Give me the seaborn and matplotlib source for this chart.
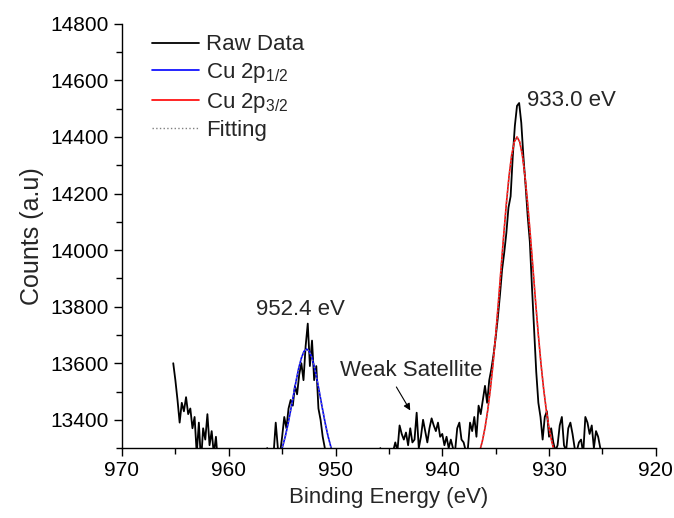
"""Cu 2p XPS spectrum with Gaussian component fits."""

import matplotlib
matplotlib.use("Agg")
import matplotlib.pyplot as plt
from matplotlib.ticker import MultipleLocator
import numpy as np
import pandas as pd
import seaborn as sns

# raw spectrum, 965.2 -> 925.2 eV in 0.2 eV steps
raw_start, raw_stop, raw_step = 965.2, 925.2, 0.2
raw_counts = [
    13600, 13540, 13470, 13390, 13460, 13430, 13480, 13420, 13440, 13370,
    13410, 13280, 13390, 13250, 13370, 13330, 13420, 13310, 13360, 13280,
    13340, 13240, 13220, 13250, 13210, 13230, 13200, 13240, 13220, 13190,
    13230, 13210, 13250, 13220, 13200, 13240, 13230, 13210, 13250, 13220,
    13240, 13260, 13230, 13270, 13300, 13260, 13250, 13280, 13390, 13300,
    13280, 13340, 13410, 13370, 13440, 13470, 13450, 13520, 13490, 13560,
    13600, 13540, 13660, 13740, 13590, 13680, 13540, 13590, 13440, 13400,
    13340, 13300, 13250, 13230, 13210, 13240, 13220, 13200, 13230, 13210,
    13240, 13220, 13190, 13230, 13250, 13210, 13230, 13200, 13240, 13220,
    13250, 13230, 13210, 13260, 13240, 13270, 13250, 13300, 13260, 13280,
    13250, 13270, 13260, 13290, 13320, 13290, 13380, 13350, 13330, 13355,
    13310, 13370, 13320, 13330, 13425, 13300, 13340, 13400, 13360, 13320,
    13370, 13405, 13380, 13360, 13390, 13340, 13350, 13310, 13340, 13300,
    13330, 13300, 13290, 13370, 13390, 13330, 13320, 13290, 13300, 13390,
    13360, 13410, 13340, 13450, 13420, 13470, 13520, 13460, 13540, 13580,
    13630, 13690, 13760, 13840, 13930, 13990, 14060, 14150, 14190, 14330,
    14440, 14510, 14520, 14450, 14330, 14230, 14120, 14030, 13870, 13720,
    13570, 13460, 13410, 13330, 13410, 13430, 13340, 13370, 13320, 13290,
    13310, 13380, 13410, 13310, 13290, 13370, 13390, 13350, 13300, 13290,
    13320, 13330, 13280, 13410, 13390, 13350, 13380, 13300, 13360, 13340,
    13300,
]

# Cu 2p1/2 component, 955.45 -> 949.95 eV in 0.25 eV steps
p12_start, p12_stop = 955.45, 949.95
p12_counts = [
    13255, 13277, 13306, 13342, 13385, 13434, 13485, 13536, 13582, 13618, 13642,
    13650,
    13642, 13618, 13582, 13536, 13485, 13434, 13385, 13342, 13306, 13277, 13255,
]

# Cu 2p3/2 component, 936.75 -> 929.25 eV in 0.25 eV steps
p32_start, p32_stop = 936.75, 929.25
p32_counts = [
    13262, 13288, 13324, 13371, 13432, 13507, 13596, 13699, 13812, 13932, 14051,
    14163, 14260, 14336, 14383,
    14400,
    14383, 14336, 14260, 14163, 14051, 13932, 13812, 13699, 13596, 13507, 13432,
    13371, 13324, 13288, 13262,
]

raw = pd.DataFrame({
    "energy": np.linspace(raw_start, raw_stop, len(raw_counts)),
    "counts": raw_counts,
})
p12 = pd.DataFrame({
    "energy": np.linspace(p12_start, p12_stop, len(p12_counts)),
    "counts": p12_counts,
})
p32 = pd.DataFrame({
    "energy": np.linspace(p32_start, p32_stop, len(p32_counts)),
    "counts": p32_counts,
})
fit = pd.concat([p12, p32], ignore_index=True)

sns.set_theme(style="ticks")
plt.rcParams["font.family"] = ["Liberation Sans", "DejaVu Sans"]
plt.rcParams["mathtext.fontset"] = "custom"
plt.rcParams["mathtext.rm"] = "Liberation Sans"
plt.rcParams["mathtext.it"] = "Liberation Sans:italic"

fig = plt.figure(figsize=(6.74, 5.18), dpi=100)
ax = fig.add_axes([0.181, 0.135, 0.792, 0.819])

sns.lineplot(data=raw, x="energy", y="counts", ax=ax, color="black",
             lw=1.3, label="Raw Data", estimator=None, sort=False)
sns.lineplot(data=p12, x="energy", y="counts", ax=ax, color="#0000ff",
             lw=1.2, label=r"Cu 2p$_{1/2}$", estimator=None, sort=False)
sns.lineplot(data=p32, x="energy", y="counts", ax=ax, color="#ff0000",
             lw=1.2, label=r"Cu 2p$_{3/2}$", estimator=None, sort=False)
sns.lineplot(data=fit, x="energy", y="counts", ax=ax, color="#808080",
             lw=1.0, ls=":", label="Fitting", estimator=None, sort=False)

ax.set_xlim(970, 920)
ax.set_ylim(13300, 14800)
ax.xaxis.set_major_locator(MultipleLocator(10))
ax.xaxis.set_minor_locator(MultipleLocator(5))
ax.yaxis.set_major_locator(MultipleLocator(200))
ax.yaxis.set_minor_locator(MultipleLocator(100))
ax.tick_params(which="both", direction="out", width=1.0, colors="black",
               labelsize=15)
ax.tick_params(which="major", length=6)
ax.tick_params(which="minor", length=4)
sns.despine(ax=ax)
for s in ("left", "bottom"):
    ax.spines[s].set_linewidth(1.0)
    ax.spines[s].set_color("black")

ax.set_xlabel("Binding Energy (eV)", fontsize=16, labelpad=5)
ax.set_ylabel("Counts (a.u)", fontsize=18, labelpad=4.5)

ax.text(932.1, 14528, "933.0 eV", fontsize=16, ha="left", va="center")
ax.text(953.3, 13791, "952.4 eV", fontsize=16, ha="center", va="center")
ax.annotate("Weak Satellite", xy=(943.0, 13433), xytext=(949.6, 13573),
            fontsize=16, ha="left", va="center")
ax.annotate("", xy=(943.0, 13433), xytext=(944.3, 13516),
            arrowprops=dict(arrowstyle="-|>", color="black", lw=0.8,
                            mutation_scale=10, shrinkA=0, shrinkB=0))

leg = ax.legend(loc="upper left", bbox_to_anchor=(0.018, 1.022), frameon=False,
                fontsize=16, handlelength=2.15, handletextpad=0.3,
                labelspacing=0.25)

fig.savefig("out.png", dpi=100)
